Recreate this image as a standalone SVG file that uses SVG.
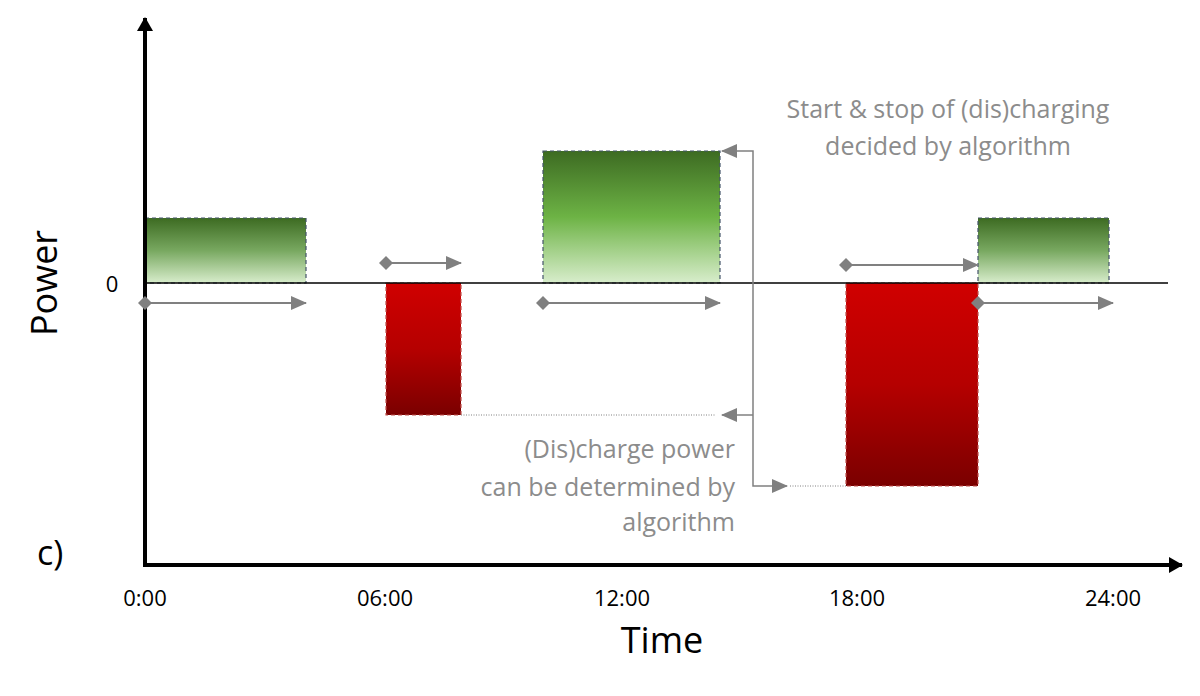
<svg xmlns="http://www.w3.org/2000/svg" width="1200" height="696" viewBox="0 0 1200 696">
<defs>
<linearGradient id="g" x1="0" y1="0" x2="0" y2="1"><stop offset="0" stop-color="#3d6b22"/><stop offset="0.5" stop-color="#78a860"/><stop offset="1" stop-color="#d8edcc"/></linearGradient>
<linearGradient id="g2" x1="0" y1="0" x2="0" y2="1"><stop offset="0" stop-color="#3d6b22"/><stop offset="0.5" stop-color="#6db345"/><stop offset="1" stop-color="#d8edcc"/></linearGradient>
<linearGradient id="r" x1="0" y1="0" x2="0" y2="1"><stop offset="0" stop-color="#d00000"/><stop offset="0.5" stop-color="#b50000"/><stop offset="1" stop-color="#7a0000"/></linearGradient>
<marker id="ah" markerWidth="10" markerHeight="10" refX="9" refY="5" orient="auto" markerUnits="userSpaceOnUse" viewBox="0 0 10 10"><path d="M0,0 L10,5 L0,10 z" fill="#808080"/></marker>
<marker id="ah2" markerWidth="16" markerHeight="14" refX="15" refY="7" orient="auto" markerUnits="userSpaceOnUse" viewBox="0 0 16 14"><path d="M0,0 L16,7 L0,14 z" fill="#808080"/></marker>
<marker id="dm" markerWidth="14" markerHeight="14" refX="7" refY="7" orient="auto" markerUnits="userSpaceOnUse"><path d="M0,7 L7,0 L14,7 L7,14 z" fill="#808080"/></marker>
<marker id="ax" markerWidth="14" markerHeight="16" refX="13" refY="8" orient="auto" markerUnits="userSpaceOnUse"><path d="M0,0 L14,8 L0,16 z" fill="#000"/></marker>
</defs>
<style>
.t{font-family:"Open Sans","Liberation Sans",sans-serif;}
.lab{font-size:22px;fill:#000;text-anchor:middle}
.note{font-size:25px;fill:#8c8c8c}
.bar{stroke:#44546a;stroke-width:1.2;stroke-dasharray:4,3}
.ar{stroke:#808080;stroke-width:2;fill:none;marker-start:url(#dm);marker-end:url(#ah2)}
.cn{stroke:#808080;stroke-width:1.5;fill:none}
.dot{stroke:#808080;stroke-width:1;stroke-dasharray:1,1.5}
</style>
<g id="bars">
<rect id="c1" class="bar" x="145" y="218" width="161" height="65" fill="url(#g)"/>
<rect id="c2" class="bar" x="543" y="151" width="177" height="132" fill="url(#g2)"/>
<rect id="c3" class="bar" x="978" y="218" width="131" height="65" fill="url(#g)"/>
<rect id="d1" class="bar" x="386" y="283" width="75" height="132" fill="url(#r)" style="stroke:#c0504d"/>
<rect id="d2" class="bar" x="846" y="283" width="132" height="203" fill="url(#r)" style="stroke:#c0504d"/>
</g>
<g id="axes">
<line x1="145" y1="283" x2="1168" y2="283" stroke="#000" stroke-width="1.5"/>
<line x1="145" y1="566" x2="145" y2="18" stroke="#000" stroke-width="4" marker-end="url(#ax)"/>
<line x1="143" y1="565" x2="1182" y2="565" stroke="#000" stroke-width="4" marker-end="url(#ax)"/>
</g>
<g id="connectors">
<line class="ar" x1="145" y1="303" x2="306" y2="303"/>
<line class="ar" x1="386" y1="263" x2="461" y2="263"/>
<line class="ar" x1="543" y1="303" x2="720" y2="303"/>
<line class="ar" x1="846" y1="265" x2="978" y2="265"/>
<line class="ar" x1="978" y1="303" x2="1113" y2="303"/>
<path class="cn" d="M753,415 V151 H722" marker-end="url(#ah2)"/>
<path class="cn" d="M753,415 H722" marker-end="url(#ah2)"/>
<path class="cn" d="M753,415 V486 H787" marker-end="url(#ah2)"/>
<line class="dot" x1="461" y1="415" x2="715" y2="415"/>
<line class="dot" x1="790" y1="486" x2="846" y2="486"/>
</g>
<g id="labels" class="t">
<text class="t lab" x="145" y="606">0:00</text>
<text class="t lab" x="385" y="606">06:00</text>
<text class="t lab" x="622" y="606">12:00</text>
<text class="t lab" x="857" y="606">18:00</text>
<text class="t lab" x="1113" y="606">24:00</text>
<text class="t" x="662" y="653" font-size="36" text-anchor="middle">Time</text>
<text class="t" x="0" y="0" font-size="36" text-anchor="middle" transform="translate(57,283) rotate(-90)">Power</text>
<text class="t" x="112" y="292" font-size="22" text-anchor="middle">0</text>
<text class="t" x="37" y="565" font-size="34">c)</text>
<text class="t note" x="948" y="118" text-anchor="middle">Start &amp; stop of (dis)charging</text>
<text class="t note" x="948" y="155" text-anchor="middle">decided by algorithm</text>
<text class="t note" x="735" y="458" text-anchor="end">(Dis)charge power</text>
<text class="t note" x="735" y="496" text-anchor="end">can be determined by</text>
<text class="t note" x="735" y="531" text-anchor="end">algorithm</text>
</g>
</svg>
